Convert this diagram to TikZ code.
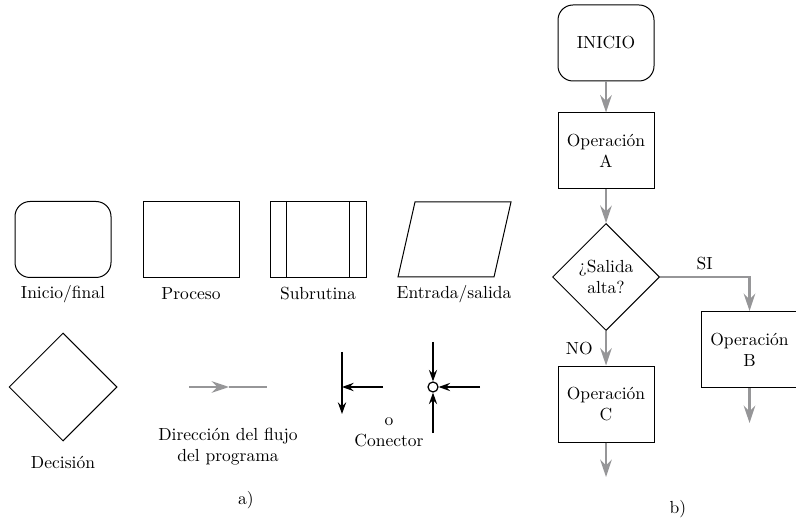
\documentclass[tikz,border=0pt]{standalone}
\usetikzlibrary{shapes.geometric,arrows.meta}
\definecolor{flowgray}{RGB}{150,150,152}
\tikzset{
  box/.style={draw,line width=0.6pt,minimum width=57.6pt,minimum height=45.6pt,inner sep=0pt,align=center},
  endbox/.style={box,rounded corners=9pt},
  decbox/.style={draw,line width=0.6pt,diamond,aspect=1,minimum size=64.8pt,inner sep=0pt,align=center},
  flow/.style={draw=flowgray,line width=1.3pt,-{Stealth[length=10.5pt,width=7pt,inset=3.5pt]}},
  blk/.style={line width=0.75pt,-{Stealth[length=7pt,width=5pt,inset=2.5pt]}}
}
\begin{document}
\begin{tikzpicture}[x=0.6pt,y=-0.6pt,font=\fontsize{10.5pt}{12.6pt}\selectfont]
   \useasboundingbox (0,0) rectangle (796,522);
   % symbols
   \node[endbox] (inicio) at (63,239.5) {};
   \node[box] (proceso) at (191,239.5) {};
   \node[box] (subrut) at (318,239.5) {};
   \draw[line width=0.6pt] ([xshift=10pt]subrut.north west) -- ([xshift=10pt]subrut.south west)
     ([xshift=-10pt]subrut.north east) -- ([xshift=-10pt]subrut.south east);
   \draw[line width=0.6pt] (398,277) -- (415,202) -- (511,202) -- (494,277) -- cycle;
   \foreach \x/\t/\n in
     { 63/{Inicio/final}/linicio,
      191/{Proceso}/lproceso,
      318/{Subrutina}/lsubrut,
      454/{Entrada/salida}/lentrada
     }
     \node (\n) at (\x,294) {\t};
   \node[decbox] (decis) at (63,387) {};
   \node (ldecis) at (63,462) {Decisión};
   \coordinate (fa) at (189,387);
   \coordinate (fm) at (229,387);
   \coordinate (fb) at (267,387);
   \draw[flow] (fa) -- (fm);
   \draw[flow,-] (fm) -- (fb);
   \node[align=center] (ldir) at (228,447) {Dirección del flujo\\del programa};
   % connector
   \coordinate (v1) at (342,352);
   \coordinate (v2) at (342,414);
   \coordinate (h1) at (383,387);
   \coordinate (h2) at (342,387);
   \draw[blk] (v1) -- (v2);
   \draw[blk] (h1) -- (h2);
   \node[circle,draw,line width=0.75pt,minimum size=6pt,inner sep=0pt] (cnt) at (433,387) {};
   \coordinate (ct) at (433,342);
   \coordinate (cb) at (433,433);
   \coordinate (cr) at (480,387);
   \foreach \c in {ct,cb,cr}
     \draw[blk] (\c) -- (cnt);
   \node[align=center] (lcon) at (389,432) {o\\Conector};
   \node (capa) at (246,500) {a)};
   % flowchart
   \node[endbox] (ini) at (606,43) {INICIO};
   \node[box] (opa) at (606,151) {Operación\\A};
   \node[decbox,minimum size=64.2pt] (sal) at (606,277) {¿Salida\\alta?};
   \node[box] (opb) at (749.5,349.5) {Operación\\B};
   \node[box] (opc) at (606,404) {Operación\\C};
   \coordinate (endb) at (749.5,423);
   \coordinate (endc) at (606,477);
   \draw[flow] (ini) -- (opa);
   \draw[flow] (opa) -- (sal);
   \draw[flow] (sal.east) -| node[pos=0.25,above] (si) {SI} (opb);
   \draw[flow] (sal) -- node[left=4pt] (no) {NO} (opc);
   \draw[flow] (opb) -- (endb);
   \draw[flow] (opc) -- (endc);
   \node (capb) at (678,509) {b)};
\end{tikzpicture}
\end{document}
